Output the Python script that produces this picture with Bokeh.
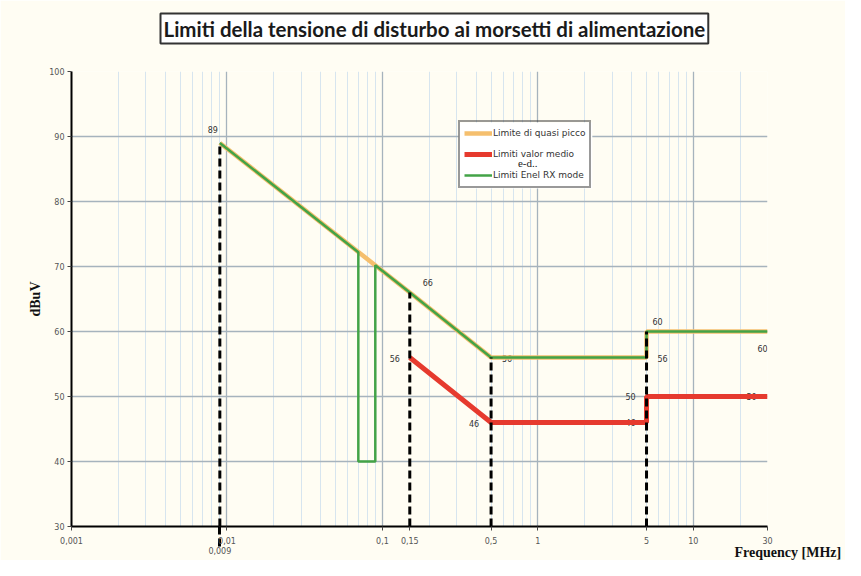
from bokeh.plotting import figure
from bokeh.models import (FixedTicker, CustomJSTickFormatter, Legend, LegendItem,
                          ColumnDataSource, Title)
from bokeh.core.properties import value
from bokeh.embed import file_html
from bokeh.resources import INLINE

# ---------------- data ----------------
title_text = "Limiti della tensione di disturbo ai morsetti di alimentazione"
y_title = "dBuV"
x_title = "Frequency [MHz]"
x_ticks = [0.001, 0.01, 0.1, 0.15, 0.5, 1, 5, 10, 30]
y_ticks = [30, 40, 50, 60, 70, 80, 90, 100]

qp_freq = [0.009, 0.15, 0.5, 5, 5, 30]
qp_db = [89, 66, 56, 56, 60, 60]

avg_freq = [0.15, 0.5, 5, 5, 30]
avg_db = [56, 46, 46, 50, 50]

enel_freq = [0.009, 0.07, 0.07, 0.09, 0.09, 0.15, 0.5, 5, 5, 30]
enel_db = [89, 72.2, 40, 40, 70.2, 66, 56, 56, 60, 60]

mark_freq = [0.009, 0.15, 0.5, 5]
mark_top = [89, 66, 56, 60]
mark_label = "0,009"

lab_freq = [0.009, 0.15, 0.15, 0.5, 0.5, 5, 5, 5, 5, 30, 30]
lab_db = [89, 66, 56, 46, 56, 50, 46, 60, 56, 60, 50]
lab_text = ["89", "66", "56", "46", "56", "50", "46", "60", "56", "60", "50"]
# pixel offsets of the labels (style)
lab_dx = [-7, 18, -15, -17, 16, -16, -16, 11, 16, -5, -16]
lab_dy = [-14, -10, 1, 1, 1, 0, 0, -10, 1, 17, 0]

# stray text box overlapping the legend in the original
stray_text = ["e-d.."]
stray_x = [0.86]
stray_y = [86]

X_MIN, X_MAX = 0.001, 30
Y_MIN, Y_MAX = 30, 100

BG = "#fffdf3"

p = figure(width=845, height=560, x_axis_type="log",
           x_range=(X_MIN, X_MAX), y_range=(Y_MIN, Y_MAX),
           output_backend="svg", toolbar_location=None,
           min_border_left=71, min_border_right=78,
           min_border_top=71, min_border_bottom=34)
p.background_fill_color = BG
p.border_fill_color = BG
p.outline_line_color = None

# title (boxed), lifted away from the frame by an empty spacer title
p.title.text = title_text
p.title.align = "left"
p.title.offset = 89
p.title.vertical_align = "bottom"
p.title.standoff = 0
p.title.text_font = "Lato"
p.title.text_font_style = "bold"
p.title.text_font_size = "20.5px"
p.title.text_color = "#1a1a1a"
p.title.border_line_color = "#333333"
p.title.border_line_width = 2
p.title.background_fill_color = "white"
p.title.background_fill_alpha = 1
p.title.padding = 3
spacer = Title(text=" ", text_font_size="1px", standoff=25)
p.above = [spacer] + list(p.above)

# axes
p.xaxis.ticker = FixedTicker(ticks=x_ticks + [mark_freq[0]], minor_ticks=[mark_freq[0]])
p.xaxis.formatter = CustomJSTickFormatter(code="return tick.toString().replace('.', ',');")
p.xaxis.major_label_overrides = {mark_freq[0]: "\n" + mark_label}
p.yaxis.ticker = FixedTicker(ticks=y_ticks, minor_ticks=[])
for ax in (p.xaxis, p.yaxis):
    ax.axis_line_color = "black"
    ax.axis_line_width = 2
    ax.major_tick_line_color = "#444444"
    ax.major_tick_out = 4
    ax.major_tick_in = 0
    ax.major_label_text_font = "DejaVu Sans"
    ax.major_label_text_font_size = "8px"
    ax.major_label_text_color = "#555555"
p.yaxis.minor_tick_line_color = None
p.xaxis.minor_tick_line_color = "black"
p.xaxis.minor_tick_line_width = 3
p.xaxis.minor_tick_line_dash = "8 4"
p.xaxis.minor_tick_out = 20
p.xaxis.minor_tick_in = 0
p.xaxis.major_label_standoff = -10
p.yaxis.major_label_standoff = 3

p.add_layout(Title(text=y_title, align="center", text_font="Liberation Serif",
                   text_font_style="bold", text_font_size="14px", text_color="#111111",
                   standoff=8), "left")
p.add_layout(Title(text=x_title, align="left", offset=663, standoff=-30,
                   vertical_align="top",
                   text_font="Liberation Serif", text_font_style="bold",
                   text_font_size="14px", text_color="#111111"), "below")

# grid
decades = [0.001, 0.01, 0.1, 1, 10]
minor = [m * d for d in decades for m in range(2, 10) if m * d <= X_MAX]
p.xgrid.ticker = FixedTicker(ticks=decades, minor_ticks=minor)
p.xgrid.grid_line_color = "#a6b3bd"
p.xgrid.grid_line_width = 1.3
p.xgrid.minor_grid_line_color = "#d7e5ef"
p.xgrid.minor_grid_line_width = 1
p.ygrid.ticker = FixedTicker(ticks=y_ticks)
p.ygrid.grid_line_color = "#a6b3bd"
p.ygrid.grid_line_width = 1.5

# value labels
src = ColumnDataSource(dict(x=lab_freq, y=lab_db, t=lab_text, dx=lab_dx, dy=lab_dy))
p.text(x="x", y="y", text="t", x_offset="dx", y_offset="dy", source=src,
       text_font=value("DejaVu Sans"), text_font_size="8px", text_color="#333333",
       text_align="center", text_baseline="middle")

# curves
r_qp = p.line(qp_freq, qp_db, line_color="#f5bf6e", line_width=4.5)
r_enel = p.line(enel_freq, enel_db, line_color="#43a347", line_width=2.5)
r_avg = p.line(avg_freq, avg_db, line_color="#e63a2e", line_width=5)

# dashed markers
p.segment(x0=mark_freq, y0=[Y_MIN] * len(mark_freq), x1=mark_freq, y1=mark_top,
          line_color="black", line_width=3, line_dash="8 4")

# white panel behind the (transparent) legend, so that the stray text box can sit on it
p.quad(left=[0.308], right=[2.24], top=[92.15], bottom=[82.0],
       fill_color="white", line_color=None)
p.text(x=stray_x, y=stray_y, text=stray_text, text_font=value("Liberation Serif"),
       text_font_size="11px", text_color="#222222", text_align="center",
       text_baseline="middle", background_fill_color="white", padding=2)

legend = Legend(items=[LegendItem(label="Limite di quasi picco", renderers=[r_qp]),
                       LegendItem(label="Limiti valor medio", renderers=[r_avg]),
                       LegendItem(label="Limiti Enel RX mode", renderers=[r_enel])],
                location=(387, 338))
legend.border_line_color = "#333333"
legend.border_line_width = 2
legend.background_fill_alpha = 0
legend.label_text_font = "DejaVu Sans"
legend.label_text_font_size = "9px"
legend.label_text_color = "#333333"
legend.glyph_width = 28
legend.glyph_height = 14
legend.label_height = 14
legend.label_standoff = 1
legend.spacing = 7
legend.padding = 4
legend.margin = 0
p.add_layout(legend, "center")

open("out.html", "w").write(file_html(p, INLINE))
